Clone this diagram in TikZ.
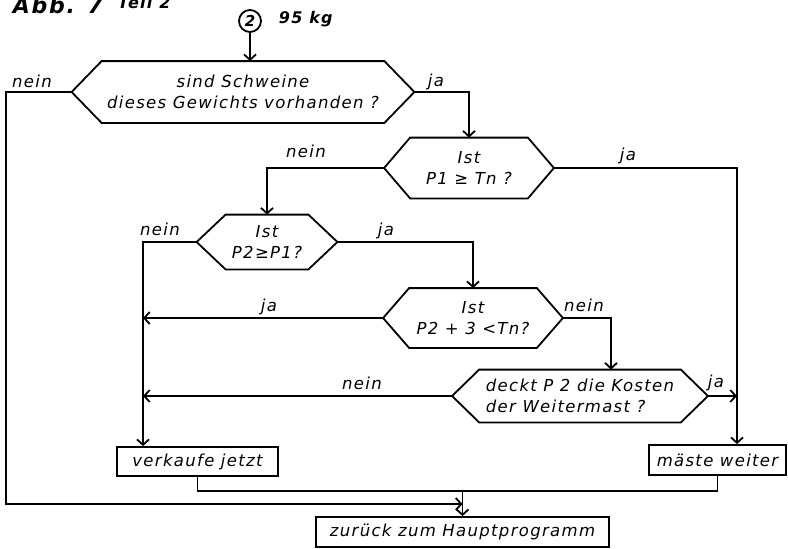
\documentclass[tikz,border=0pt]{standalone}
\usepackage{fontspec}
\newfontfamily\flow{DejaVu Sans}[LetterSpace=8]
\usetikzlibrary{arrows.meta}
\newcommand\hexoutline[2]{%
  \draw (#1.north west) -- (#1.north east) -- ([xshift=#2]#1.east) -- (#1.south east)
        -- (#1.south west) -- ([xshift=-#2]#1.west) -- cycle;
  \coordinate (#1-w) at ([xshift=-#2]#1.west);
  \coordinate (#1-e) at ([xshift=#2]#1.east);
}
\begin{document}
\begin{tikzpicture}[x=1pt,y=-1pt,line width=1.8pt,
  every node/.style={font=\flow\itshape\fontsize{16.5}{21}\selectfont},
  hexbox/.style={inner sep=0pt, align=center},
  flowbox/.style={draw, inner sep=0pt, minimum height=29pt, align=center},
  lbl/.style={inner sep=0pt, anchor=base},
  arr/.style={-{Straight Barb[length=5.5pt,width=12pt]}}]
\useasboundingbox (0,0) rectangle (788,549);
\begin{scope}
\clip (0,0) rectangle (788,549);
% title
\node[anchor=base west, inner sep=0pt, font=\flow\bfseries\itshape\fontsize{22}{26}\selectfont] (title) at (12,13) {Abb. 7};
\node[anchor=base west, inner sep=0pt, font=\flow\bfseries\itshape\fontsize{16}{18}\selectfont] (teil) at (117,8) {Teil 2};
\end{scope}
% start connector
\node[circle, draw, minimum size=22pt, inner sep=0pt, font=\flow\bfseries\itshape\fontsize{15}{18}\selectfont] (c2) at (250,21) {2};
\node[anchor=base west, inner sep=0pt, font=\flow\bfseries\itshape\fontsize{16}{18}\selectfont] (kg) at (278,23) {95 kg};
% decisions
\node[hexbox, minimum width=281pt, minimum height=60pt] (h1) at (243,92) {sind Schweine\\dieses Gewichts vorhanden ?};
\hexoutline{h1}{30pt}
\node[hexbox, minimum width=116pt, minimum height=59pt] (h2) at (469,168) {Ist\\P1 ≥ Tn ?};
\hexoutline{h2}{26pt}
\node[hexbox, minimum width=81pt, minimum height=53pt] (h3) at (267,242) {Ist\\P2≥P1?};
\hexoutline{h3}{29pt}
\node[hexbox, minimum width=126pt, minimum height=58pt] (h4) at (473,318) {Ist\\P2 + 3 <Tn?};
\hexoutline{h4}{26pt}
\node[hexbox, align=left, minimum width=200pt, minimum height=51pt] (h5) at (580,396) {deckt P 2 die Kosten\\der Weitermast ?};
\hexoutline{h5}{27pt}
% boxes
\node[flowbox, minimum width=161pt] (vk) at (197.5,461.5) {verkaufe jetzt};
\node[flowbox, minimum width=137pt, minimum height=30pt] (mw) at (717.5,460) {mäste weiter};
\node[flowbox, minimum width=293pt, minimum height=30pt] (zh) at (462.5,532) {zurück zum Hauptprogramm};
% helper coordinates
\coordinate (vl) at ([xshift=-54.5pt]vk.north);
\coordinate (ml) at ([xshift=19.5pt]mw.north);
\coordinate (outer) at (6,504);
\coordinate (merge) at (462.5,504);
\coordinate (jnt) at (462.5,491);
% connectors
\draw[arr] (c2.south) -- (c2.south |- h1.north);
\draw[arr] (h1-w) -| (outer) -- (merge);
\draw[arr] (h1-e) -| (h2.north);
\draw[arr] (h2-w) -| (h3.north);
\draw[arr] (h2-e) -| (ml);
\draw[arr] (h3-w) -| (vl);
\draw[arr] (h3-e) -| (h4.north);
\draw[arr] (h4-w) -- (h4-w -| vl);
\draw[arr] (h4-e) -| ([xshift=31pt]h5.north);
\draw[arr] (h5-w) -- (h5-w -| vl);
\draw[arr] (h5-e) -- (h5-e -| ml);
\draw (vk.south) |- (jnt) -| (mw.south);
\draw[arr] (jnt) -- (zh.north);
% labels
\node[lbl] (l1) at (32,87) {nein};
\node[lbl] (l2) at (436,86) {ja};
\node[lbl] (l3) at (306,157) {nein};
\node[lbl] (l4) at (628,160) {ja};
\node[lbl] (l5) at (160,235) {nein};
\node[lbl] (l6) at (386,235) {ja};
\node[lbl] (l7) at (269,311) {ja};
\node[lbl] (l8) at (584,311) {nein};
\node[lbl] (l9) at (362,389) {nein};
\node[lbl] (l10) at (716,387) {ja};
\end{tikzpicture}
\end{document}
